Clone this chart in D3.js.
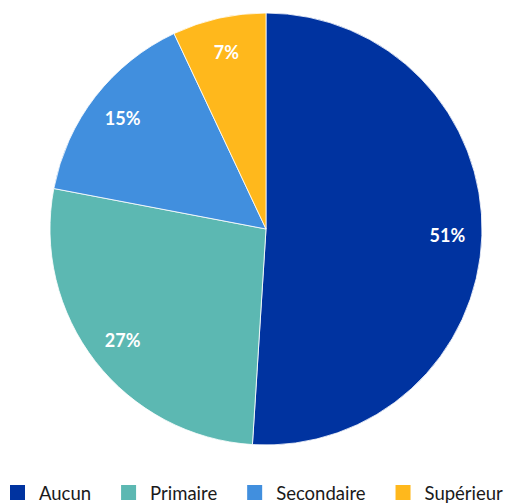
<!DOCTYPE html>
<html>
<head>
<meta charset="utf-8">
<script src="https://cdn.jsdelivr.net/npm/d3@7"></script>
<style>
  html, body { margin: 0; padding: 0; background: #fff; }
  svg { display: block; font-family: Lato, "Open Sans", sans-serif; }
</style>
</head>
<body>
<svg id="chart" width="517" height="503"></svg>
<script>
// Niveau d'instruction : part de chaque catégorie (%)
const categories = ["Aucun", "Primaire", "Secondaire", "Supérieur"];
const values = [51, 27, 15, 7];
const colors = ["#0033A0", "#5CB8B2", "#418FDE", "#FFB81C"];

const svg = d3.select("#chart");
const cx = 266, cy = 229, radius = 216;

const color = d3.scaleOrdinal().domain(categories).range(colors);
const data = categories.map((c, i) => ({ cat: c, value: values[i] }));

const pie = d3.pie().sort(null).value(d => d.value);
const arcs = pie(data);

const arc = d3.arc().innerRadius(0).outerRadius(radius);
const labelArc = d3.arc().innerRadius(radius * 0.84).outerRadius(radius * 0.84);

const g = svg.append("g").attr("transform", `translate(${cx},${cy})`);

g.selectAll("path.slice")
  .data(arcs)
  .join("path")
  .attr("class", "slice")
  .attr("d", arc)
  .attr("fill", d => color(d.data.cat))
  .attr("stroke", "#ffffff")
  .attr("stroke-width", 0.8);

g.selectAll("text.val")
  .data(arcs)
  .join("text")
  .attr("class", "val")
  .attr("transform", d => `translate(${labelArc.centroid(d)})`)
  .attr("text-anchor", "middle")
  .attr("dominant-baseline", "central")
  .attr("fill", "#ffffff")
  .attr("font-weight", "bold")
  .attr("font-size", 18)
  .text(d => d.data.value + "%");

// Légende horizontale sous le graphique
const legend = svg.append("g").attr("transform", "translate(10,492)");
let x = 0;
data.forEach(d => {
  const item = legend.append("g").attr("transform", `translate(${x},0)`);
  item.append("rect")
    .attr("x", 0).attr("y", -7)
    .attr("width", 15).attr("height", 15)
    .attr("fill", color(d.cat));
  const t = item.append("text")
    .attr("x", 29).attr("y", 1)
    .attr("dominant-baseline", "central")
    .attr("font-size", 18.5)
    .attr("fill", "#1a1a1a")
    .text(d.cat);
  x += 29 + t.node().getComputedTextLength() + 30;
});
</script>
</body>
</html>
